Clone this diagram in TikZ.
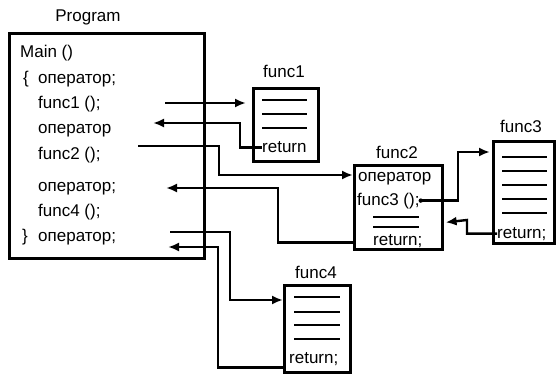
\documentclass[tikz,border=0pt]{standalone}
\usepackage{fontspec}
\setmainfont{Liberation Sans}
\usetikzlibrary{arrows.meta}
\tikzset{
  box/.style={draw, line width=2.6pt, inner sep=0pt, anchor=north west},
  txt/.style={anchor=base west, inner sep=0pt, font=\fontsize{17}{20}\selectfont},
  lbl/.style={anchor=base, inner sep=0pt, font=\fontsize{17}{20}\selectfont},
  arr/.style={line width=2.4pt, -{Latex[length=11pt,width=9pt]}},
  rule/.style={line width=1.9pt},
}
\begin{document}
\begin{tikzpicture}[x=1pt,y=-1pt]
\useasboundingbox (0,0) rectangle (556,374);
% boxes
\node[box, minimum width=195pt, minimum height=225pt] (prog) at (8,32) {};
\node[box, minimum width=65pt, minimum height=73pt] (f1) at (252,87) {};
\node[box, minimum width=88pt, minimum height=84pt] (f2) at (353,164) {};
\node[box, minimum width=61pt, minimum height=102pt] (f3) at (492,140) {};
\node[box, minimum width=66pt, minimum height=87pt] (f4) at (283,284) {};
% labels
\node[lbl] (lprog) at (88,22) {Program};
\node[lbl] (lf1) at (284,78) {func1};
\node[lbl] (lf2) at (397,159) {func2};
\node[lbl] (lf3) at (521,133) {func3};
\node[lbl] (lf4) at (316,278) {func4};
% program text
\node[txt] (p1) at (20,58) {Main ()};
\node[txt] (p2a) at (23,84) {\{};
\node[txt] (p2) at (38,84) {оператор;};
\node[txt] (p3) at (38,109) {func1 ();};
\node[txt] (p4) at (38,134) {оператор};
\node[txt] (p5) at (38,160) {func2 ();};
\node[txt] (p6) at (38,191) {оператор;};
\node[txt] (p7) at (38,216) {func4 ();};
\node[txt] (p8a) at (22,241) {\}};
\node[txt] (p8) at (38,241) {оператор;};
% func1 content
\draw[rule] (262,100) -- (307,100);
\draw[rule] (262,114) -- (307,114);
\draw[rule] (262,128) -- (307,128);
\node[txt] (r1) at (262,153) {return};
% func2 content
\node[txt] (f2a) at (358,182) {оператор};
\node[txt] (f2b) at (357,205) {func3 ();};
\draw[rule] (373,217) -- (419,217);
\draw[rule] (373,227) -- (419,227);
\node[txt] (r2) at (373,245) {return;};
% func3 content
\foreach \yy in {157,171,185,199,213} \draw[rule] (502,\yy) -- (547,\yy);
\node[txt] (r3) at (497,238) {return;};
% func4 content
\foreach \yy in {297,312,325,339} \draw[rule] (294,\yy) -- (340,\yy);
\node[txt] (r4) at (289,363) {return;};
% connector ends
\coordinate (c1) at (165,103);
\coordinate (c2) at (153,123);
\coordinate (c3) at (138,146);
\coordinate (c4) at (166,188);
\coordinate (c5) at (170,232);
\coordinate (c6) at (168,247);
% connectors
\draw[arr, shorten >=6pt] (c1) -- (c1 -| f1.west);
\draw[arr] (r1.west) -| (240,123) -- (c2);
\draw[arr] (c3) -| (219,175) -- ([yshift=-11pt]f2.north west);
\draw[arr] ([yshift=8pt]f2.south west) -| (278,188) -- (c4);
\draw[arr] (c5) -| (230,300) -- ([yshift=-16pt]f4.north west);
\draw[arr] ([yshift=6pt]f4.south west) -| (218,247) -- (c6);
\fill ([xshift=1pt]f2b.east) circle (2.2pt);
\draw[arr, shorten >=2pt] ([xshift=1pt]f2b.east) -| (458,152) -- ([yshift=-12pt]f3.north west);
\draw[arr, shorten >=2pt] (r3.west) -| (467,220) -- ([yshift=28pt]f2.south east);
\end{tikzpicture}
\end{document}
